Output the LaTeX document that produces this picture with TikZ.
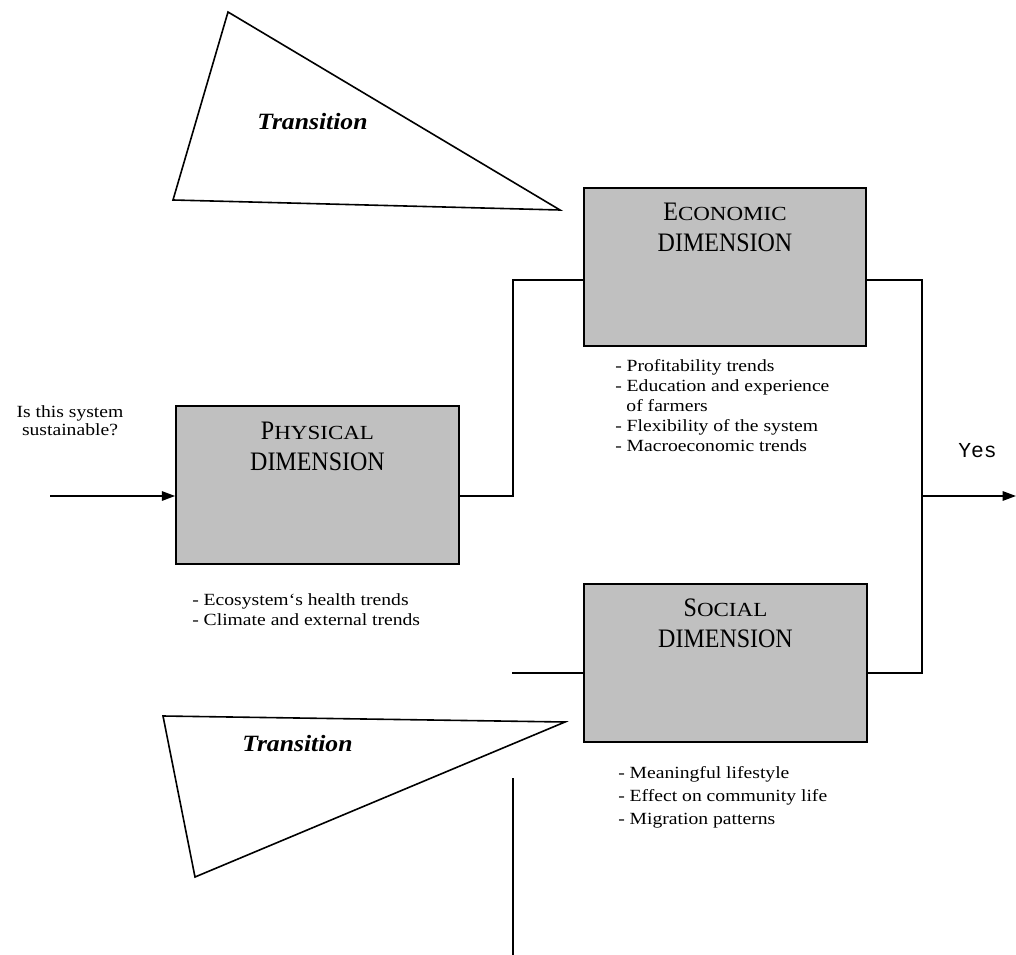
\documentclass[tikz,border=0pt]{standalone}
\usepackage{fontspec}
\setmainfont{Liberation Serif}
\newfontfamily\bodyf[FakeStretch=1.15]{Liberation Serif}
\newfontfamily\capf[FakeStretch=0.9]{Liberation Serif}
\newfontfamily\scf[FakeStretch=1.15]{Liberation Serif}
\newfontfamily\transf[FakeStretch=1.1]{Liberation Serif}
\newfontfamily\monof{Liberation Mono}
\usetikzlibrary{arrows.meta}
\definecolor{boxgray}{RGB}{192,192,192}
\newcommand\tbigcap[1]{{\capf\fontsize{20}{23.25}\selectfont #1}}
\newcommand\tsmallcap[1]{{\scf\fontsize{15}{23.25}\selectfont #1}}
\begin{document}
\begin{tikzpicture}[x=0.75pt,y=-0.75pt,
  dimbox/.style={draw, line width=1.4pt, fill=boxgray, minimum width=212pt, minimum height=119pt, inner sep=0pt},
  titletext/.style={inner sep=0pt, align=center, font=\capf\fontsize{20}{23.25}\selectfont},
  bullets/.style={inner sep=0pt, align=left, anchor=north west, font=\bodyf\fontsize{12.8}{15}\selectfont},
  conn/.style={line width=1.4pt},
  arr/.style={conn, -{Triangle[length=10pt,width=7pt]}},
  tri/.style={line width=1.2pt, line join=miter},
  transtext/.style={inner sep=0pt, anchor=base west, font=\transf\bfseries\itshape\fontsize{17.5}{20}\selectfont}
]
\useasboundingbox (0,0) rectangle (1016,955);

% transition triangles
\draw[tri] (228,12) -- (173,200) -- (560,210) -- cycle;
\draw[tri] (163,716) -- (565,722) -- (195,877) -- cycle;
\node[transtext] (tr1) at (257,130) {Transition};
\node[transtext] (tr2) at (242,751) {Transition};

% boxes
\node[dimbox] (econ) at (725,267) {};
\node[dimbox] (phys) at (317.5,485) {};
\node[dimbox] (soc) at (725.5,663) {};

\node[titletext, anchor=north] (econT) at ([yshift=-12pt]econ.north) {\tbigcap{E}\tsmallcap{CONOMIC}\\DIMENSION};
\node[titletext, anchor=north] (physT) at ([yshift=-13pt]phys.north) {\tbigcap{P}\tsmallcap{HYSICAL}\\DIMENSION};
\node[titletext, anchor=north] (socT) at ([yshift=-12pt]soc.north) {\tbigcap{S}\tsmallcap{OCIAL}\\DIMENSION};

% bullet lists
\node[bullets] (econL) at (615,359) {- Profitability trends\\- Education and experience\\\hspace*{8.4pt}of farmers\\- Flexibility of the system\\- Macroeconomic trends};
\node[bullets] (physL) at (192,593) {- Ecosystem‘s health trends\\- Climate and external trends};
\node[bullets, font=\bodyf\fontsize{12.8}{17.5}\selectfont] (socL) at (618,766) {- Meaningful lifestyle\\- Effect on community life\\- Migration patterns};

% question and answer
\node[inner sep=0pt, align=center, anchor=north, font=\bodyf\fontsize{12.8}{13.5}\selectfont] (q) at (70,405) {Is this system\\sustainable?};
\node[inner sep=0pt, anchor=base west, font=\monof\fontsize{16}{18}\selectfont] (yes) at (958,457) {Yes};

% connectors
\coordinate (in) at (50,496);
\draw[arr] (in) -- (in -| phys.west);
\coordinate (j1) at (513,280);
\draw[conn] (in -| phys.east) -| (j1) -- (j1 -| econ.west);
\coordinate (j2) at (922,280);
\coordinate (j3) at (922,673);
\draw[conn] (j2 -| econ.east) -- (j2) -- (j3) -- (j3 -| soc.east);
\coordinate (out) at (1016,496);
\draw[arr] (out -| j2) -- (out);
\coordinate (s1) at (512,673);
\draw[conn] (s1) -- (s1 -| soc.west);
\coordinate (b1) at (513,778);
\coordinate (b2) at (513,955);
\draw[conn] (b1) -- (b2);
\end{tikzpicture}
\end{document}
